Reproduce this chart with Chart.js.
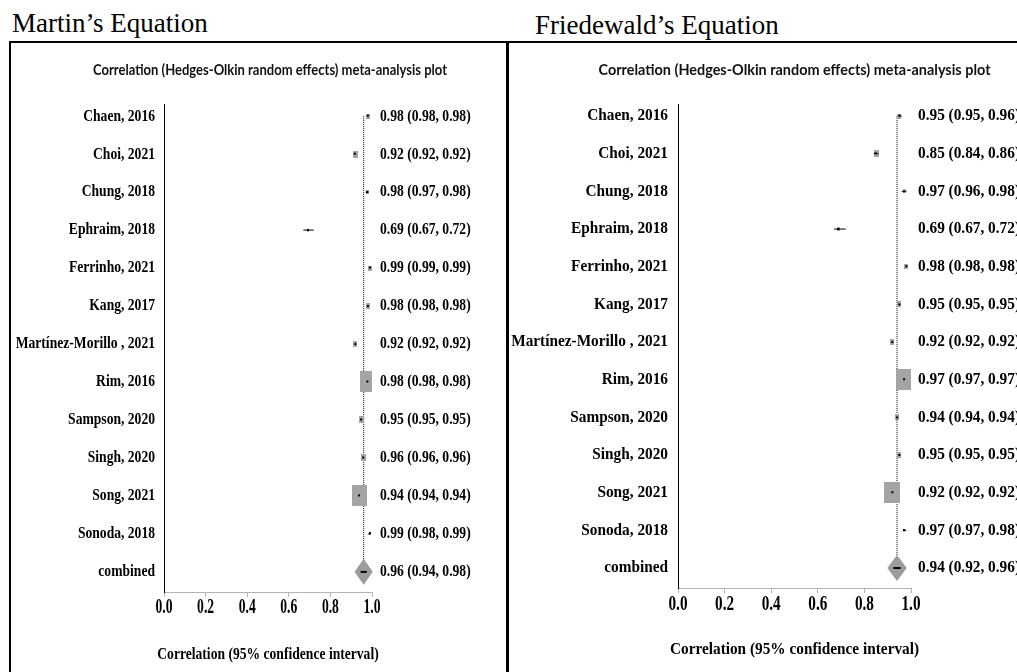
<!DOCTYPE html>
<html><head><meta charset="utf-8">
<script src="https://cdn.jsdelivr.net/npm/chart.js@4"></script>
<style>
html,body{margin:0;padding:0;background:#fff;width:1017px;height:672px;overflow:hidden;position:relative}
.title{position:absolute;font-family:'Liberation Serif','Times New Roman',serif;font-size:27px;line-height:27px;white-space:nowrap;color:#000}
.box{position:absolute;border:2px solid #000;box-sizing:border-box}
.wrap{position:absolute}
</style></head><body>
<div class="title" style="left:12px;top:10px">Martin’s Equation</div>
<div class="title" style="left:535px;top:12px">Friedewald’s Equation</div>
<div class="box" style="left:9px;top:41px;width:500px;height:660px"></div>
<div class="box" style="left:506px;top:41px;width:540px;height:660px"></div>
<div class="wrap" style="left:11px;top:43px;width:496px;height:629px"><canvas id="c1"></canvas></div>
<div class="wrap" style="left:509px;top:43px;width:508px;height:629px"><canvas id="c2"></canvas></div>
<script>
// ---------------- DATA ----------------
const studies = ['Chaen, 2016','Choi, 2021','Chung, 2018','Ephraim, 2018','Ferrinho, 2021','Kang, 2017',
  'Martínez-Morillo , 2021','Rim, 2016','Sampson, 2020','Singh, 2020','Song, 2021','Sonoda, 2018'];
const pooledLabel = 'combined';

const martinEst = [0.98,0.92,0.98,0.69,0.99,0.98,0.92,0.98,0.95,0.96,0.94,0.99];
const martinLo  = [0.98,0.92,0.97,0.67,0.99,0.98,0.92,0.98,0.95,0.96,0.94,0.98];
const martinHi  = [0.98,0.92,0.98,0.72,0.99,0.98,0.92,0.98,0.95,0.96,0.94,0.99];
const martinWeight = [2.2,4.2,1.4,0.8,2.2,3.1,3.1,38,4.2,4.2,38,0.8];
const martinPooled = [0.96,0.94,0.98]; // estimate, lower, upper

const friedEst = [0.95,0.85,0.97,0.69,0.98,0.95,0.92,0.97,0.94,0.95,0.92,0.97];
const friedLo  = [0.95,0.84,0.96,0.67,0.98,0.95,0.92,0.97,0.94,0.95,0.92,0.97];
const friedHi  = [0.96,0.86,0.98,0.72,0.98,0.95,0.92,0.97,0.94,0.95,0.92,0.98];
const friedWeight = [2.2,4.2,1.4,1.1,2.2,3.1,3.1,38,3.1,3.1,38,0.8];
const friedPooled = [0.94,0.92,0.96];

const xTicks = [0.0,0.2,0.4,0.6,0.8,1.0];
const plotTitle = 'Correlation (Hedges-Olkin random effects) meta-analysis plot';
const xAxisTitle = 'Correlation (95% confidence interval)';

// ---------------- STYLE ----------------
const SERIF = "'Liberation Serif','Times New Roman',serif";
const BOX_COLOR = '#a4a4a4';
const DIAMOND_COLOR = '#9c9c9c';
const MAX_BOX_H = 21;
const DIAMOND_HALF_H = 13;

function fmt(v){ return v.toFixed(2); }

function boxImage(h, aspect){
  const hh = Math.max(2, Math.round(h));
  const w = Math.max(2, Math.round(h*aspect));
  const c = document.createElement('canvas'); c.width = w; c.height = hh;
  const g = c.getContext('2d');
  g.fillStyle = BOX_COLOR; g.fillRect(0,0,w,hh);
  g.fillStyle = '#000'; g.fillRect(Math.floor(w/2)-1, Math.floor(hh/2)-1, 2, 2);
  return c;
}

function makePanel(canvasId, est, lo, hi, weight, pooled, cfg){
  const n = est.length;
  const wMax = Math.max(...weight);
  const boxes = est.map((v,i)=>({x:v, y:i}));
  const ciData = [];
  est.forEach((v,i)=>{ ciData.push({x:lo[i],y:i},{x:hi[i],y:i},{x:hi[i],y:null}); });
  const refLine = [{x:pooled[0], y:0},{x:pooled[0], y:n}];
  const images = weight.map(w => boxImage(MAX_BOX_H*Math.sqrt(w/wMax), cfg.aspect));

  const deco = {
    id:'deco'+canvasId,
    afterDatasetsDraw(chart){
      const {ctx} = chart; const xs = chart.scales.x, ys = chart.scales.y;
      const cy = ys.getPixelForValue(n);
      const cx = xs.getPixelForValue(pooled[0]);
      const xl = xs.getPixelForValue(pooled[1]), xr = xs.getPixelForValue(pooled[2]);
      const hw = Math.max((xr-xl)/2, DIAMOND_HALF_H*cfg.aspect);
      ctx.save();
      ctx.fillStyle = DIAMOND_COLOR;
      ctx.beginPath();
      ctx.moveTo(cx-hw,cy); ctx.lineTo(cx,cy-DIAMOND_HALF_H); ctx.lineTo(cx+hw,cy); ctx.lineTo(cx,cy+DIAMOND_HALF_H);
      ctx.closePath(); ctx.fill();
      ctx.strokeStyle = '#000'; ctx.lineWidth = 2;
      ctx.beginPath(); ctx.moveTo(xl+1,cy); ctx.lineTo(xr-1,cy); ctx.stroke();
      ctx.restore();
    },
    afterDraw(chart){
      const {ctx} = chart; const xs = chart.scales.x, ys = chart.scales.y;
      const serifText = (t, x, y, align, sx) => {
        ctx.save(); ctx.translate(x,y); ctx.scale(sx,1);
        ctx.textAlign = align; ctx.fillText(t,0,0); ctx.restore();
      };
      ctx.save();
      ctx.fillStyle = '#000'; ctx.textBaseline = 'middle';
      ctx.font = 'bold 17px ' + SERIF;
      const labels = studies.concat([pooledLabel]);
      const e2 = est.concat([pooled[0]]), l2 = lo.concat([pooled[1]]), h2 = hi.concat([pooled[2]]);
      labels.forEach((t,i)=>{
        const y = ys.getPixelForValue(i);
        serifText(t, xs.left - cfg.labelGap, y, 'right', cfg.sx);
        serifText(fmt(e2[i])+' ('+fmt(l2[i])+', '+fmt(h2[i])+')', xs.right + cfg.valueGap, y, 'left', cfg.sx);
      });
      ctx.font = 'bold 20px ' + SERIF;
      xTicks.forEach(v=>{
        serifText(v.toFixed(1), xs.getPixelForValue(v), xs.top + cfg.tickDy, 'center', cfg.tsx);
      });
      ctx.font = 'bold 17px ' + SERIF;
      serifText(xAxisTitle, (xs.left+xs.right)/2, xs.top + cfg.titleDy, 'center', cfg.sx);
      // subtitle
      ctx.font = "bold 15px Lato, 'Noto Sans', sans-serif";
      const mw = ctx.measureText(plotTitle).width;
      ctx.save(); ctx.translate((xs.left+xs.right)/2 + cfg.subDx, cfg.subY); ctx.scale(cfg.subW/mw,1);
      ctx.textAlign = 'center'; ctx.fillStyle = '#111'; ctx.fillText(plotTitle,0,0); ctx.restore();
      ctx.restore();
    }
  };

  return new Chart(document.getElementById(canvasId), {
    type:'scatter',
    data:{ datasets:[
      { type:'line', data:refLine, borderColor:'#000', borderWidth:1, borderDash:[1,1], pointRadius:0, order:3 },
      { data:boxes, pointStyle:(c)=>images[c.dataIndex], pointRadius:3, order:2 },
      { type:'line', data:ciData, borderColor:'#000', borderWidth:1, pointRadius:0, spanGaps:false, order:1 }
    ]},
    options:{
      responsive:true, maintainAspectRatio:false, animation:false, events:[],
      layout:{ padding:{ left:cfg.padL, right:cfg.padR, top:cfg.padT, bottom:cfg.padB } },
      plugins:{ legend:{display:false}, tooltip:{enabled:false}, title:{display:false} },
      scales:{
        x:{ type:'linear', min:0, max:1,
            afterBuildTicks:(s)=>{ s.ticks = xTicks.map(v=>({value:v})); },
            ticks:{ display:false },
            grid:{ drawOnChartArea:false, drawTicks:true, tickLength:5, color:'#b4b4b4', lineWidth:1 },
            border:{ display:true, color:'#b4b4b4', width:1 } },
        y:{ type:'linear', reverse:true, min:-0.32, max:12.53,
            ticks:{ display:false },
            grid:{ display:false, drawTicks:false },
            border:{ display:true, color:'#000', width:1 } }
      }
    },
    plugins:[deco]
  });
}

makePanel('c1', martinEst, martinLo, martinHi, martinWeight, martinPooled,
  { aspect:0.7, sx:0.8, tsx:0.68, padL:153, padR:135, padT:61, padB:75, labelGap:9, valueGap:8,
    tickDy:16, titleDy:63, subY:27, subW:354, subDx:2 });
makePanel('c2', friedEst, friedLo, friedHi, friedWeight, friedPooled,
  { aspect:0.75, sx:0.9, tsx:0.76, padL:169, padR:106, padT:61, padB:79, labelGap:10, valueGap:7,
    tickDy:17, titleDy:62, subY:27, subW:392, subDx:0 });
</script>
</body></html>
